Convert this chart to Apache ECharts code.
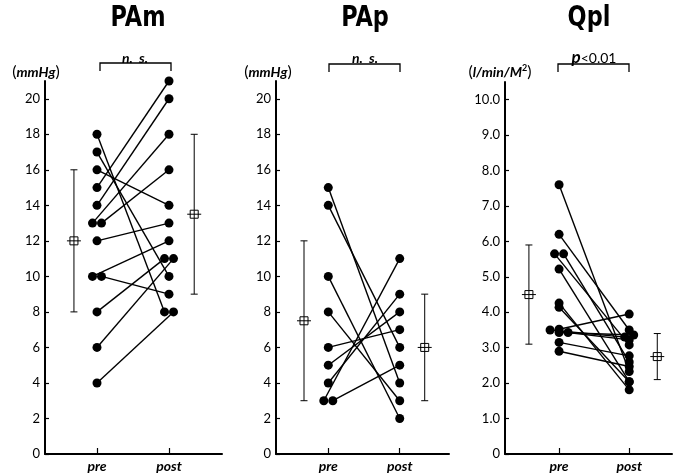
<!DOCTYPE html>
<html>
<head>
<meta charset="utf-8">
<script src="https://cdn.jsdelivr.net/npm/echarts@6/dist/echarts.min.js"></script>
<style>
  html, body { margin: 0; background: #fff; }
  #chart { width: 676px; height: 473px; }
</style>
</head>
<body>
<div id="chart"></div>
<script>
// same index = same patient, pre -> post
const pamPre  = [15, 14, 13, 13, 16, 18, 17, 12, 10, 10, 8, 6, 4]
const pamPost = [21, 20, 18, 16, 14, 8, 10, 13, 12, 9, 11, 11, 8]
const pamPreStats  = [8, 12, 16]      // low, mean, high
const pamPostStats = [9, 13.5, 18]

const papPre  = [15, 14, 10, 8, 6, 5, 4, 3, 3]
const papPost = [4, 6, 2, 3, 7, 8, 9, 11, 5]
const papPreStats  = [3, 7.5, 12]
const papPostStats = [3, 6, 9]

const qplPre  = [7.6, 6.2, 5.65, 5.65, 5.22, 4.26, 4.14, 3.52, 3.5, 3.43, 3.43, 3.15, 2.9]
const qplPost = [2.33, 3.5, 3.08, 2.6, 2.04, 1.81, 2.04, 3.95, 3.3, 3.36, 3.22, 2.77, 2.47]
const qplPreStats  = [3.1, 4.5, 5.9]
const qplPostStats = [2.1, 2.75, 3.4]

const xLabels = ['pre', 'post']
const titles = ['PAm', 'PAp', 'Qpl']

const FONT = 'Lato, "DejaVu Sans", sans-serif'
const DOT = 9

// layout of the three panels
const panels = [
  { pre: pamPre, post: pamPost, stats: [pamPreStats, pamPostStats],
    grid: { left: 45, top: 81, width: 177, bottom: 19 }, xMin: 0.278, xMax: 2.736,
    yMax: 21, step: 2, meanX: [0.68, 2.35], fmt: v => String(v) },
  { pre: papPre, post: papPost, stats: [papPreStats, papPostStats],
    grid: { left: 276, top: 81, width: 173, bottom: 19 }, xMin: 0.268, xMax: 2.69,
    yMax: 21, step: 2, meanX: [0.66, 2.35], fmt: v => String(v) },
  { pre: qplPre, post: qplPost, stats: [qplPreStats, qplPostStats],
    grid: { left: 505, top: 82, width: 167, bottom: 19 }, xMin: 0.229, xMax: 2.61,
    yMax: 10.5, step: 1, meanX: [0.57, 2.4], fmt: v => v === 0 ? '0' : v.toFixed(1) }
]

// spread overlapping dots sideways (simple beeswarm), result in x units
function swarm(vals, pxY, pxX) {
  const order = vals.map((v, i) => i).sort((a, b) => vals[a] - vals[b])
  const off = vals.map(() => 0)
  const placed = []
  const cands = [0, 1, -1, 2, -2, 3, -3]
  order.forEach(i => {
    for (const c of cands) {
      const x = c * DOT
      const free = placed.every(j => Math.hypot(off[j] - x, (vals[j] - vals[i]) * pxY) >= DOT - 0.5)
      if (free) { off[i] = x; break }
    }
    placed.push(i)
  })
  // centre each touching group on the tick
  const seen = new Set()
  order.forEach(i => {
    if (seen.has(i)) return
    const group = [i]
    seen.add(i)
    for (let k = 0; k < group.length; k++) {
      order.forEach(j => {
        if (!seen.has(j) && Math.hypot(off[j] - off[group[k]], (vals[j] - vals[group[k]]) * pxY) < DOT + 0.5) {
          seen.add(j)
          group.push(j)
        }
      })
    }
    const xs = group.map(j => off[j])
    const mid = (Math.min(...xs) + Math.max(...xs)) / 2
    group.forEach(j => { off[j] -= mid })
  })
  return off.map(o => o / pxX)
}

const grids = [], xAxes = [], yAxes = [], series = []

panels.forEach((p, k) => {
  const gridH = 473 - p.grid.top - p.grid.bottom
  const pxY = gridH / p.yMax
  const pxX = p.grid.width / (p.xMax - p.xMin)
  const preX = swarm(p.pre, pxY, pxX).map(o => 1 + o)
  const postX = swarm(p.post, pxY, pxX).map(o => 2 + o)

  const yTicks = []
  for (let v = 0; v <= p.yMax + 1e-9; v += p.step) yTicks.push(v)

  grids.push(p.grid)
  xAxes.push({
    type: 'value', gridIndex: k, min: p.xMin, max: p.xMax,
    axisLine: { lineStyle: { color: '#000', width: 2 } },
    axisTick: { inside: true, length: 6, customValues: [1, 2], lineStyle: { color: '#000', width: 1.2 } },
    axisLabel: {
      customValues: [1, 2], formatter: v => xLabels[Math.round(v) - 1],
      color: '#000', fontFamily: FONT, fontSize: 14, fontWeight: 'bold', fontStyle: 'italic', margin: 5
    },
    splitLine: { show: false }
  })
  yAxes.push({
    type: 'value', gridIndex: k, min: 0, max: p.yMax,
    axisLine: { show: true, lineStyle: { color: '#000', width: 2 } },
    axisTick: { show: true, inside: true, length: 4, customValues: yTicks, lineStyle: { color: '#000', width: 1.2 } },
    axisLabel: { customValues: yTicks, formatter: p.fmt, color: '#000', fontFamily: FONT, fontSize: 13, margin: 5 },
    splitLine: { show: false }
  })

  // connecting lines
  series.push({
    type: 'custom', xAxisIndex: k, yAxisIndex: k, z: 2, silent: true,
    data: p.pre.map((v, i) => [preX[i], v, postX[i], p.post[i]]),
    renderItem: (params, api) => {
      const a = api.coord([api.value(0), api.value(1)])
      const b = api.coord([api.value(2), api.value(3)])
      return { type: 'line', shape: { x1: a[0], y1: a[1], x2: b[0], y2: b[1] },
        style: { stroke: '#000', lineWidth: 1.4 } }
    }
  })
  // dots
  series.push({
    type: 'scatter', xAxisIndex: k, yAxisIndex: k, z: 3, silent: true,
    symbol: 'circle', symbolSize: DOT, itemStyle: { color: '#000', opacity: 1 },
    data: p.pre.map((v, i) => [preX[i], v]).concat(p.post.map((v, i) => [postX[i], v]))
  })
  // mean and SD
  series.push({
    type: 'custom', xAxisIndex: k, yAxisIndex: k, z: 3, silent: true,
    data: p.stats.map((s, i) => [p.meanX[i], s[0], s[1], s[2]]),
    renderItem: (params, api) => {
      const lo = api.coord([api.value(0), api.value(1)])
      const m = api.coord([api.value(0), api.value(2)])
      const hi = api.coord([api.value(0), api.value(3)])
      const st = { stroke: '#000', lineWidth: 1, fill: null }
      const x = m[0]
      return { type: 'group', children: [
        { type: 'line', shape: { x1: x, y1: lo[1], x2: x, y2: hi[1] }, style: st },
        { type: 'line', shape: { x1: x - 3.5, y1: lo[1], x2: x + 3.5, y2: lo[1] }, style: st },
        { type: 'line', shape: { x1: x - 3.5, y1: hi[1], x2: x + 3.5, y2: hi[1] }, style: st },
        { type: 'rect', shape: { x: x - 4, y: m[1] - 4, width: 8, height: 8 }, style: { stroke: '#000', lineWidth: 1, fill: '#fff' } },
        { type: 'line', shape: { x1: x, y1: m[1] - 4, x2: x, y2: m[1] + 4 }, style: st },
        { type: 'line', shape: { x1: x - 7, y1: m[1], x2: x + 7, y2: m[1] }, style: st }
      ] }
    }
  })
})

// titles, brackets, units
const titleX = [138, 365, 589]
const bracket = [[100, 171, 63], [329, 400, 64], [558, 629, 64]]
const graphic = []
titles.forEach((t, k) => {
  graphic.push({ type: 'text', x: titleX[k], y: 19, scaleX: 0.8, style: {
    text: t, align: 'center', verticalAlign: 'middle', fill: '#000',
    font: 'bold 28px "DejaVu Sans", sans-serif' } })
  const [x1, x2, y] = bracket[k]
  graphic.push({ type: 'polyline', shape: { points: [[x1, y + 8], [x1, y], [x2, y], [x2, y + 8]] },
    style: { stroke: '#000', lineWidth: 1.3, fill: null } })
})
const noteStyle = { fill: '#000', align: 'center', verticalAlign: 'middle' }
graphic.push({ type: 'text', x: 135, y: 58, style: Object.assign({ text: 'n.  s.', font: `italic bold 14px ${FONT}` }, noteStyle) })
graphic.push({ type: 'text', x: 365, y: 58, style: Object.assign({ text: 'n.  s.', font: `italic bold 14px ${FONT}` }, noteStyle) })
graphic.push({ type: 'text', x: 594, y: 58, style: Object.assign({
  text: '{p|p}{r|<0.01}',
  rich: { p: { fontFamily: FONT, fontSize: 17, fontWeight: 'bold', fontStyle: 'italic' },
          r: { fontFamily: FONT, fontSize: 14 } } }, noteStyle) })

const unitRich = {
  n: { fontFamily: FONT, fontSize: 16 },
  b: { fontFamily: FONT, fontSize: 14, fontWeight: 'bold', fontStyle: 'italic' },
  s: { fontFamily: FONT, fontSize: 9, fontWeight: 'bold', verticalAlign: 'top' }
}
graphic.push({ type: 'text', x: 36, y: 72, style: Object.assign({ text: '{n|(}{b|mmHg}{n|)}', rich: unitRich }, noteStyle) })
graphic.push({ type: 'text', x: 268, y: 72, style: Object.assign({ text: '{n|(}{b|mmHg}{n|)}', rich: unitRich }, noteStyle) })
graphic.push({ type: 'text', x: 500, y: 72, style: Object.assign({ text: '{n|(}{b|l/min/M}{s|2}{n|)}', rich: unitRich }, noteStyle) })

const chart = echarts.init(document.getElementById('chart'))
chart.setOption({
  animation: false,
  backgroundColor: '#fff',
  grid: grids,
  xAxis: xAxes,
  yAxis: yAxes,
  series: series,
  graphic: graphic
})
</script>
</body>
</html>
